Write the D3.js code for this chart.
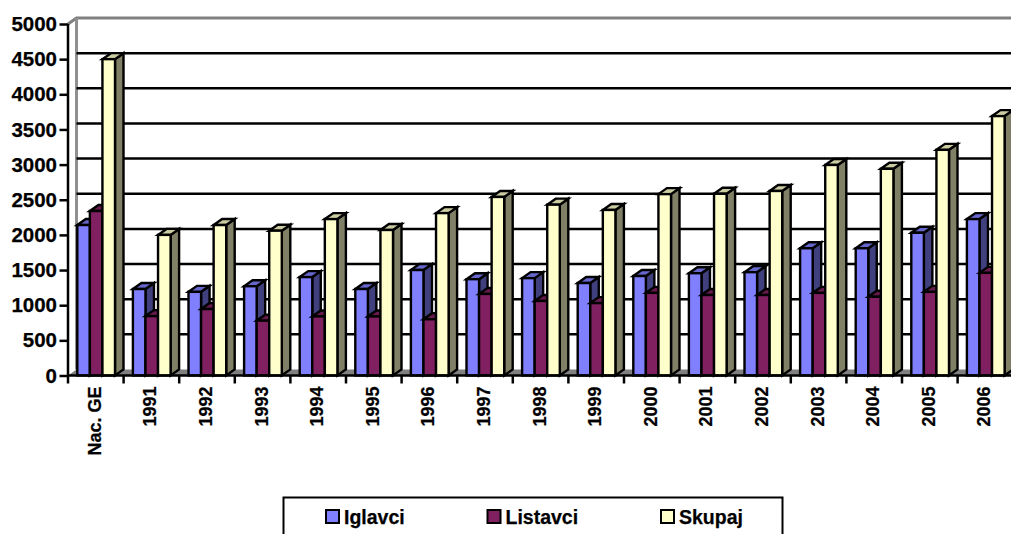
<!DOCTYPE html>
<html><head><meta charset="utf-8">
<script src="https://cdn.jsdelivr.net/npm/d3@7/dist/d3.min.js"></script>
<style>html,body{margin:0;padding:0;background:#fff;overflow:hidden}svg{display:block}
text{font-family:"Liberation Sans",Arial,sans-serif;font-weight:bold;fill:#000;stroke:#000;stroke-width:0.25px}</style>
</head><body><svg id="c" width="1011" height="534"></svg>
<script>
const categories=["Nac. GE","1991","1992","1993","1994","1995","1996","1997","1998","1999","2000","2001","2002","2003","2004","2005","2006"];
const seriesNames=["Iglavci","Listavci","Skupaj"];
const iglavci=[2140,1230,1190,1270,1400,1230,1500,1370,1385,1315,1415,1455,1470,1810,1810,2030,2225];
const listavci=[2340,845,945,780,840,840,800,1160,1060,1030,1175,1145,1145,1175,1120,1190,1460];
const skupaj=[4500,2000,2140,2060,2225,2070,2310,2540,2430,2355,2580,2585,2625,2995,2940,3210,3690];
const yTicks=[0,500,1000,1500,2000,2500,3000,3500,4000,4500,5000];
const frontColors=["#8080FF","#802060","#FFFFCC"];
const sideColors=["#40407F","#401030","#808066"];
const topColors=["#6666CC","#661A4D","#CCCCA3"];

const svg=d3.select("#c");
const dx=8.5,dy=-6;
const y=d3.scaleLinear().domain([0,5000]).range([375.5,24]);
const x=d3.scaleBand().domain(categories).range([68,68+17*55.6]);
const xs=d3.scaleBand().domain(seriesNames).range([9.3,47]);
const values=[iglavci,listavci,skupaj];
const x0=x.range()[0], y0=y(0), yT=y(5000), xR=1011;

// wall and floor
const wall=svg.append("g");
wall.append("path").attr("d",`M${x0},${yT}L${x0+dx},${yT+dy}L${xR+5},${yT+dy}`).attr("fill","none").attr("stroke","#808080").attr("stroke-width",3);
wall.append("path").attr("d",`M${x0+dx},${yT+dy}L${x0+dx},${y0+dy}`).attr("fill","none").attr("stroke","#909090").attr("stroke-width",3);
wall.append("path").attr("d",`M${x0},${y0}L${x0+dx},${y0+dy}L${xR+5},${y0+dy}L${xR+5},${y0}Z`).attr("fill","#808080").attr("stroke","none");
wall.selectAll("line.g").data(yTicks.filter(d=>d>0&&d<5000)).join("line").attr("class","g")
 .attr("x1",x0+dx).attr("x2",xR+5).attr("y1",d=>y(d)+dy).attr("y2",d=>y(d)+dy).attr("stroke","#000").attr("stroke-width",2.5);

// bars: drawn category by category, left to right
const bw=xs.bandwidth();
const stroke={stroke:"#000","stroke-width":2.4,"stroke-linejoin":"miter"};
const applyStroke=s=>{Object.entries(stroke).forEach(([k,v])=>s.attr(k,v));return s;};
categories.forEach((c,i)=>{
  seriesNames.forEach((n,j)=>{
    const g=svg.append("g");
    const L=x(c)+xs(n),R=L+bw,T=y(values[j][i]),B=y0;
    applyStroke(g.append("path").attr("d",`M${R},${T}L${R+dx},${T+dy}L${R+dx},${B+dy}L${R},${B}Z`).attr("fill",sideColors[j]));
    applyStroke(g.append("path").attr("d",`M${L},${T}L${L+dx},${T+dy}L${R+dx},${T+dy}L${R},${T}Z`).attr("fill",topColors[j]));
    applyStroke(g.append("rect").attr("x",L).attr("y",T).attr("width",bw).attr("height",B-T).attr("fill",frontColors[j]));
  });
});

// axes
const ay=svg.append("g").attr("transform",`translate(${x0},0)`)
 .call(d3.axisLeft(y).tickValues(yTicks).tickSize(8.5).tickPadding(2.5).tickFormat(d3.format("d")));
ay.selectAll("path").attr("stroke","#000").attr("stroke-width",2.5).attr("d",`M0,${yT}V${y0}`);
ay.selectAll("line").attr("stroke","#000").attr("stroke-width",2.5);
ay.selectAll("text").style("font-size","20.5px").attr("fill","#000").style("font-family",'"Liberation Sans",Arial,sans-serif').style("font-weight","bold");

const ax=svg.append("g").attr("transform",`translate(0,${y0})`)
 .call(d3.axisBottom(x).tickSize(0).tickFormat(d=>d));
ax.select("path").attr("stroke","#000").attr("stroke-width",2.5).attr("d",`M${x0},0H${xR+5}`);
ax.selectAll(".tick line").remove();
ax.selectAll(".tick text").attr("transform","rotate(-90)").attr("x",-11).attr("y",-1.5).attr("dy","0.36em")
 .attr("text-anchor","end").style("font-size","18px").attr("fill","#000")
 .style("font-family",'"Liberation Sans",Arial,sans-serif').style("font-weight","bold");
svg.append("g").selectAll("line").data(categories).join("line")
 .attr("x1",d=>x(d)).attr("x2",d=>x(d)).attr("y1",y0).attr("y2",y0+8).attr("stroke","#000").attr("stroke-width",2.5);

// legend
const lg=svg.append("g");
lg.append("rect").attr("x",283.5).attr("y",497.5).attr("width",499).attr("height",50).attr("fill","#fff").attr("stroke","#000").attr("stroke-width",2);
const legX=d3.scaleOrdinal().domain(seriesNames).range([326,487.5,661]);
const item=lg.selectAll("g").data(seriesNames).join("g").attr("transform",d=>`translate(${legX(d)},510)`);
item.append("rect").attr("width",13).attr("height",13).attr("fill",(d,i)=>frontColors[i]).attr("stroke","#000").attr("stroke-width",2);
item.append("text").attr("x",18).attr("y",13.5).style("font-size","19.5px").text(d=>d);
</script></body></html>
